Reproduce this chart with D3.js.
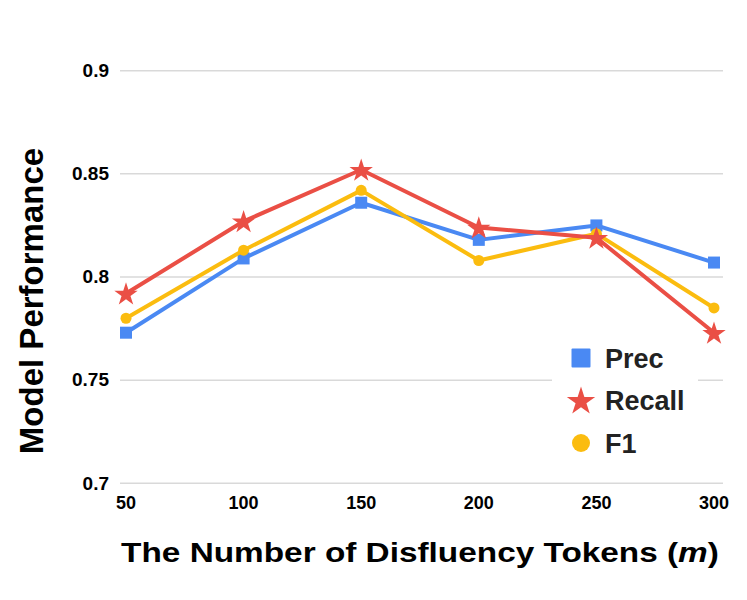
<!DOCTYPE html>
<html><head><meta charset="utf-8">
<script src="https://cdn.jsdelivr.net/npm/d3@7"></script>
<style>body{margin:0;background:#fff}svg{display:block}text{font-family:"Liberation Sans",Arial,sans-serif;font-weight:bold;fill:#000}</style>
</head><body>
<svg id="c" width="747" height="600"></svg>
<script>
const categories = [50, 100, 150, 200, 250, 300];
const prec   = [0.773, 0.809, 0.836, 0.818, 0.825, 0.807];
const recall = [0.792, 0.827, 0.852, 0.824, 0.819, 0.773];
const f1     = [0.780, 0.813, 0.842, 0.808, 0.821, 0.785];
const yTicks = [0.7, 0.75, 0.8, 0.85, 0.9];
const yTickLabels = ["0.7", "0.75", "0.8", "0.85", "0.9"];
const seriesNames = ["Prec", "Recall", "F1"];
const colors = ["#4a89f3", "#ea4f45", "#fbbc0f"];

const svg = d3.select("#c");
const x = d3.scaleLinear().domain([50, 300]).range([126, 714]);
const y = d3.scaleLinear().domain([0.7, 0.9]).range([483.3, 70.7]);

// grid
svg.append("g").selectAll("line").data(yTicks).join("line")
  .attr("x1", 120).attr("x2", 723)
  .attr("y1", d => y(d)).attr("y2", d => y(d))
  .attr("stroke", "#d9d9d9").attr("stroke-width", 1.5);

// y tick labels
svg.append("g").selectAll("text").data(yTicks).join("text")
  .attr("x", 109).attr("y", d => y(d)).attr("dy", "0.33em")
  .attr("text-anchor", "end").attr("font-size", 19)
  .text((d, i) => yTickLabels[i]);

// x tick labels
svg.append("g").selectAll("text").data(categories).join("text")
  .attr("x", d => x(d)).attr("y", 509)
  .attr("text-anchor", "middle").attr("font-size", 18)
  .text(d => d);

// axis titles
svg.append("text").attr("transform", "translate(43,301) rotate(-90)")
  .attr("text-anchor", "middle").attr("font-size", 33)
  .text("Model Performance");
const xt = svg.append("text").attr("text-anchor", "middle").attr("font-size", 28);
xt.append("tspan").text("The Number of Disfluency Tokens (");
xt.append("tspan").attr("font-style", "italic").text("m");
xt.append("tspan").text(")");
const natural = xt.node().getComputedTextLength();
xt.attr("transform", `translate(420,562) scale(${598 / natural},1)`);

const series = [prec, recall, f1];
const line = d3.line().x((d, i) => x(categories[i])).y(d => y(d));
const starSym = d3.symbol().type(d3.symbolStar);

const order = [0, 2, 1];
order.forEach(si => {
  const vals = series[si];
  svg.append("path").datum(vals).attr("d", line)
    .attr("fill", "none").attr("stroke", colors[si]).attr("stroke-width", 4)
    .attr("stroke-linejoin", "round");
  const g = svg.append("g");
  vals.forEach((v, i) => {
    const cx = x(categories[i]), cy = y(v);
    if (si === 0) g.append("rect").attr("x", cx - 6).attr("y", cy - 6).attr("width", 12).attr("height", 12).attr("fill", colors[si]);
    else if (si === 1) g.append("path").attr("d", starSym.size(170)()).attr("transform", `translate(${cx},${cy + 1})`).attr("fill", colors[si]);
    else g.append("circle").attr("cx", cx).attr("cy", cy).attr("r", 5.5).attr("fill", colors[si]);
  });
});

// legend
svg.append("rect").attr("x", 552).attr("y", 338).attr("width", 146).attr("height", 128).attr("fill", "#fff");
const legY = [358, 400, 443];
seriesNames.forEach((name, i) => {
  const cx = 581, cy = legY[i];
  if (i === 0) svg.append("rect").attr("x", cx - 9.5).attr("y", cy - 9.5).attr("width", 19).attr("height", 19).attr("rx", 1).attr("fill", colors[i]);
  else if (i === 1) svg.append("path").attr("d", starSym.size(250)()).attr("transform", `translate(${cx},${cy + 1.5})`).attr("fill", colors[i]);
  else svg.append("circle").attr("cx", cx).attr("cy", cy).attr("r", 9).attr("fill", colors[i]);
  svg.append("text").attr("x", 605).attr("y", cy).attr("dy", "0.36em").attr("font-size", 27).style("fill", "#222").text(name);
});
</script>
</body></html>
